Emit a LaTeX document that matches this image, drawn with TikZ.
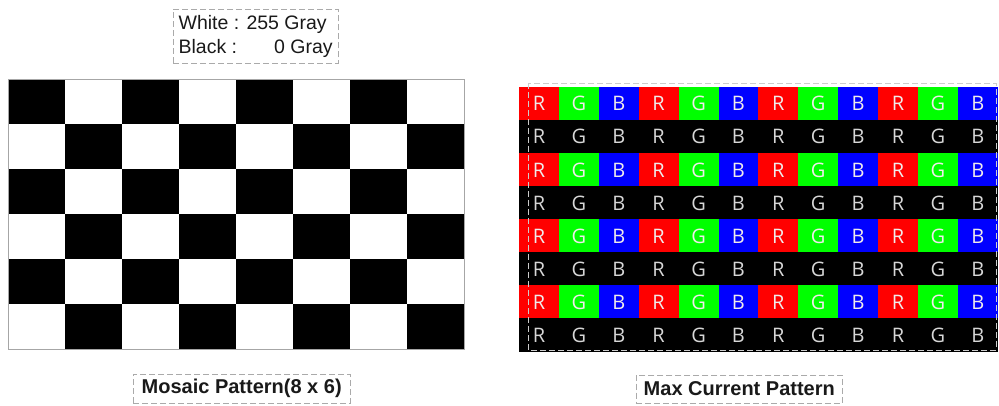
\documentclass[tikz,border=0pt]{standalone}
\usepackage{fontspec}
\setmainfont{Liberation Sans}
\newfontfamily\cellfont{Open Sans}
\definecolor{txt}{RGB}{25,25,25}
\definecolor{boxgray}{RGB}{170,170,170}
\definecolor{pr}{RGB}{255,0,0}
\definecolor{pg}{RGB}{0,255,0}
\definecolor{pb}{RGB}{0,0,255}
\definecolor{ltlight}{RGB}{240,235,235}
\definecolor{ltgray}{RGB}{215,215,215}
\begin{document}
\begin{tikzpicture}[x=1pt,y=-1pt,
  labelbox/.style={draw=boxgray, dashed, dash pattern=on 6pt off 3pt, line width=0.8pt, inner sep=0pt, text=txt},
  celltext/.style={font=\cellfont\fontsize{20}{20}\selectfont, inner sep=0pt, anchor=center}]
\useasboundingbox (0,0) rectangle (999,406);

% top legend
\node[labelbox, minimum width=165pt, minimum height=54pt, anchor=north west] (legend) at (172.7,9)
  {\parbox{154pt}{\fontsize{19.5}{23.3}\selectfont White : 255 Gray\\Black :\hfill 0 Gray}};

% mosaic checkerboard 8 x 6
\foreach \i in {0,...,7}{
  \foreach \j in {0,...,5}{
    \pgfmathtruncatemacro\p{mod(\i+\j,2)}
    \ifnum\p=0
      \fill[black] (8+57*\i,79+45*\j) rectangle ++(57,45);
    \fi
  }
}
\draw[gray!70, line width=0.6pt] (8,79) rectangle (464,349);
\coordinate (mosaic) at (236,349);

% max current pattern
\foreach \j in {0,...,7}{
  \pgfmathtruncatemacro\odd{mod(\j,2)}
  \foreach \i in {0,...,11}{
    \pgfmathtruncatemacro\c{mod(\i,3)}
    \ifnum\c=0 \def\cname{pr}\def\lt{R}\fi
    \ifnum\c=1 \def\cname{pg}\def\lt{G}\fi
    \ifnum\c=2 \def\cname{pb}\def\lt{B}\fi
    \ifnum\odd=0
      \fill[\cname] (519+39.9*\i,86.7+33.1*\j) rectangle ++(39.95,33.15);
      \node[celltext, text=ltlight] (c-\i-\j) at (519+39.9*\i+19.95,86.7+33.1*\j+17) {\lt};
    \else
      \fill[black] (519+39.9*\i,86.7+33.1*\j) rectangle ++(39.95,33.15);
      \node[celltext, text=ltgray] (c-\i-\j) at (519+39.9*\i+19.95,86.7+33.1*\j+17) {\lt};
    \fi
  }
}
\draw[boxgray!60!white, dashed, dash pattern=on 6pt off 3pt, line width=0.8pt] (528,83) rectangle (996,350);

% captions
\node[labelbox, minimum width=216.7pt, minimum height=29.3pt, font=\bfseries\fontsize{20}{20}\selectfont] (cap1) at (241.7,388.7) {Mosaic Pattern(8 x 6)};
\node[labelbox, minimum width=206.7pt, minimum height=28pt, font=\bfseries\fontsize{20}{20}\selectfont] (cap2) at (739.3,389) {Max Current Pattern};
\end{tikzpicture}
\end{document}
